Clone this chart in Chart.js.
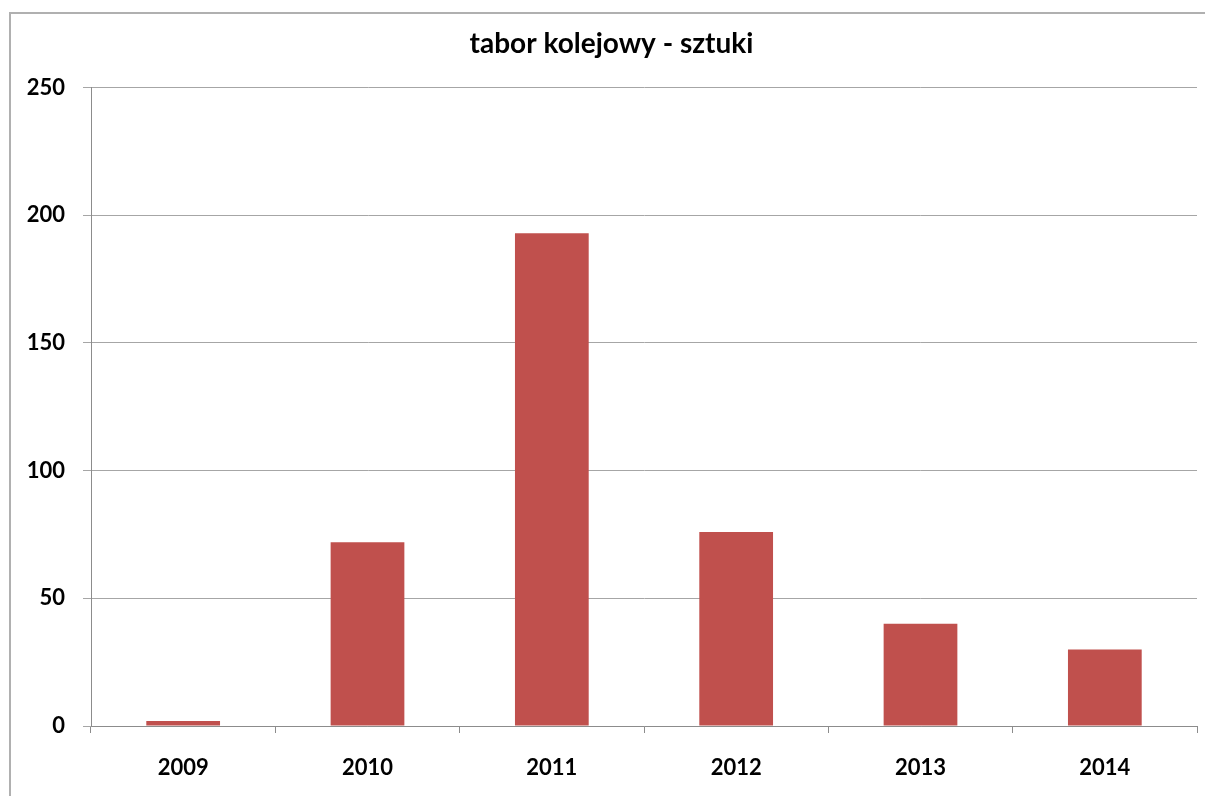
<!DOCTYPE html>
<html>
<head>
<meta charset="utf-8">
<script src="https://cdn.jsdelivr.net/npm/chart.js@4"></script>
<style>
  html, body { margin: 0; padding: 0; background: #fff; }
  #ramka {
    position: absolute; left: 9px; top: 12px; width: 1300px; height: 900px;
    border-left: 2px solid #b0b0b0; border-top: 2px solid #b0b0b0;
  }
  #wykres { position: absolute; left: 0; top: 0; }
</style>
</head>
<body>
<div id="ramka"></div>
<canvas id="wykres" width="1205" height="796"></canvas>
<script>
const lata = ['2009', '2010', '2011', '2012', '2013', '2014'];
const sztuki = [2, 72, 193, 76, 40, 30];
const tytul = 'tabor kolejowy - sztuki';
const osY = { min: 0, max: 250, krok: 50 };

document.addEventListener("DOMContentLoaded", () => {
    const ctx = document.getElementById('wykres').getContext('2d');
    const czcionka = { family: 'Lato', weight: 'bold', size: 22 };

    new Chart(ctx, {
        type: 'bar',
        data: {
            labels: lata,
            datasets: [{
                label: tytul,
                data: sztuki,
                backgroundColor: '#c0504d',
                borderWidth: 0,
                barPercentage: 0.4,
                categoryPercentage: 1.0,
            }]
        },
        options: {
            responsive: false,
            animation: false,
            layout: { padding: { left: 26, right: 8, top: 0, bottom: 0 } },
            plugins: {
                legend: { display: false },
                tooltip: { enabled: false },
                title: {
                    display: true,
                    text: tytul,
                    color: '#000',
                    font: { family: 'Lato', weight: 'bold', size: 28 },
                    padding: { top: 27, bottom: 27 },
                },
            },
            scales: {
                x: {
                    afterFit: s => { s.height = 70; },
                    grid: {
                        offset: true,
                        drawOnChartArea: false,
                        drawTicks: true,
                        tickLength: 7,
                        color: '#8c8c8c',
                    },
                    border: { display: true, color: '#8c8c8c', width: 1 },
                    ticks: { color: '#000', font: czcionka, padding: 22 },
                },
                y: {
                    min: osY.min,
                    max: osY.max,
                    afterFit: s => { s.width = 65; },
                    grid: {
                        color: '#a6a6a6',
                        tickLength: 8,
                    },
                    border: { display: true, color: '#8c8c8c', width: 1 },
                    ticks: { stepSize: osY.krok, color: '#000', font: czcionka, padding: 18 },
                }
            }
        }
    });
});
</script>
</body>
</html>
